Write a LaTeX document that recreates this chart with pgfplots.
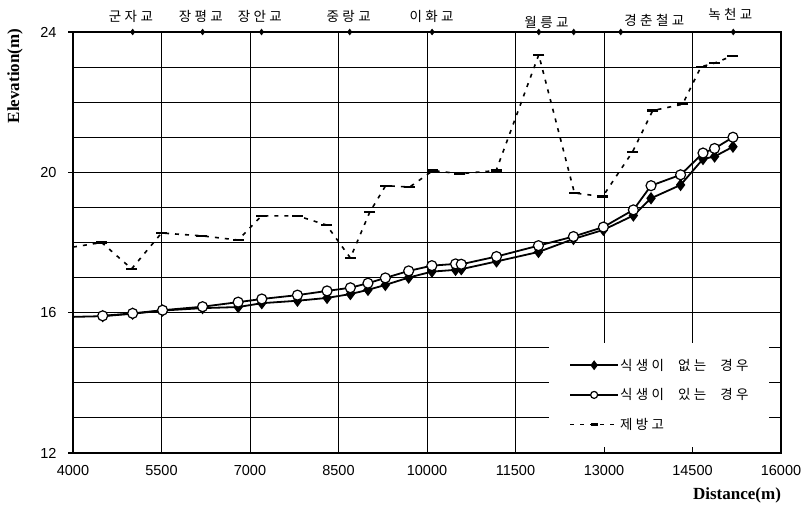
\documentclass[border=0pt]{standalone}
\usepackage{fontspec}
\setmainfont{Liberation Sans}
\newfontfamily\kr[LetterSpace=25]{Noto Sans CJK KR}
\newfontfamily\serifb{Liberation Serif}
\usepackage{pgfplots}
\pgfplotsset{compat=1.18}
\begin{document}
\begin{tikzpicture}[x=1pt,y=1pt]
\begin{axis}[
  at={(0,0)}, anchor=south west,
  scale only axis, width=708pt, height=421pt,
  xmin=4000, xmax=16000, ymin=12, ymax=24,
  xtick={4000,5500,7000,8500,10000,11500,13000,14500,16000},
  scaled x ticks=false,
  ytick={12,16,20,24},
  minor ytick={13,14,15,17,18,19,21,22,23},
  grid=both,
  major grid style={black, line width=1pt},
  minor grid style={black, line width=1pt},
  axis line style={black, line width=2pt},
  tick pos=left,
  ytick style={black, line width=1.2pt},
  xtick style={draw=none},
  minor tick length=0pt,
  major tick length=5pt,
  tick align=outside,
  clip=false,
  /pgf/number format/assume math mode=true,
  /pgf/number format/set thousands separator={},
  ticklabel style={font=\fontsize{14.5}{16}\selectfont},
  yticklabel style={xshift=-8pt},
  xticklabel style={yshift=-4pt},
  legend style={at={(rel axis cs:0.984,0.014)}, anchor=south east,
    draw=none, fill=white, font=\kr\fontsize{13.5}{15}\selectfont,
    row sep=13pt, inner xsep=20pt, inner ysep=14pt,
    nodes={inner xsep=1pt}},
  legend cell align=left,
  legend image code/.code={\draw[mark repeat=2,mark phase=2,mark size=3.5pt] plot coordinates {(0pt,0pt)(24pt,0pt)(48pt,0pt)};},
]
% top bridge markers
\addplot[forget plot, only marks, mark=diamond*, mark size=3pt, black] coordinates {
(5011,24)(6196,24)(7195,24)(8690,24)(10086,24)(11894,24)(12487,24)(13283,24)(15191,24)};
% lead-in segments
\addplot[forget plot, black, line width=1.8pt, no marks] coordinates {(4000,15.88)(4503,15.90)};
\addplot[forget plot, black, line width=1.6pt, dash pattern=on 4pt off 6pt, no marks] coordinates {(4000,17.87)(4486,18.00)};
% no vegetation
\addplot[black, line width=1.8pt, mark=diamond*, mark size=4.8pt, mark options={solid, fill=black}] coordinates {
(4503,15.90)(5011,15.97)(5518,16.06)(6196,16.13)(6799,16.16)(7200,16.27)(7804,16.34)(8306,16.42)(8701,16.53)(8999,16.65)(9294,16.79)(9689,17.00)(10083,17.17)(10484,17.22)(10581,17.24)(11178,17.46)(11889,17.73)(12482,18.10)(12990,18.36)(13498,18.77)(13797,19.26)(14298,19.64)(14678,20.38)(14874,20.45)(15186,20.73)};
\addlegendentry{식생이\hspace{14pt}없는\hspace{14pt}경우}
% with vegetation
\addplot[black, line width=1.8pt, mark=*, mark size=5pt, mark options={solid, fill=white, line width=1.2pt}] coordinates {
(4503,15.91)(5011,15.98)(5518,16.07)(6196,16.17)(6799,16.30)(7200,16.39)(7804,16.50)(8306,16.62)(8701,16.71)(8999,16.84)(9294,16.99)(9689,17.19)(10083,17.34)(10484,17.39)(10581,17.38)(11178,17.60)(11889,17.91)(12482,18.17)(12990,18.44)(13498,18.93)(13797,19.62)(14298,19.93)(14678,20.55)(14874,20.68)(15186,21.00)};
\addlegendentry{식생이\hspace{14pt}있는\hspace{14pt}경우}
% levee
\addplot[black, line width=1.6pt, dash pattern=on 4pt off 6pt, mark=-, mark size=5.5pt, mark options={solid, line width=2.2pt}] coordinates {
(4486,18.00)(4994,17.25)(5501,18.27)(6179,18.19)(6799,18.07)(7195,18.76)(7804,18.76)(8295,18.50)(8701,17.56)(9028,18.86)(9299,19.62)(9705,19.58)(10100,20.05)(10552,19.96)(11172,20.05)(11894,23.35)(12499,19.41)(12978,19.31)(13486,20.59)(13825,21.76)(14332,21.94)(14644,23.01)(14869,23.11)(15179,23.32)};
\addlegendentry{제방고}
% bridge names
\begin{scope}[every node/.style={font=\kr\fontsize{13.5}{15}\selectfont, inner sep=0pt}]
\node at (axis cs:4982,24) [yshift=16pt] {군자교};
\node at (axis cs:6167,24) [yshift=16pt] {장평교};
\node at (axis cs:7166,24) [yshift=16pt] {장안교};
\node at (axis cs:8673,24) [yshift=16pt] {중랑교};
\node at (axis cs:10078,24) [yshift=16pt] {이화교};
\node at (axis cs:12025,24) [yshift=10pt] {월릉교};
\node at (axis cs:13853,24) [yshift=12pt] {경춘철교};
\node at (axis cs:15140,24) [yshift=18pt] {녹천교};
\end{scope}
\end{axis}
\node[rotate=90, font=\serifb\bfseries\fontsize{17}{19}\selectfont] at (-58pt,377pt) {Elevation(m)};
\node[font=\serifb\bfseries\fontsize{17}{19}\selectfont] at (664pt,-42pt) {Distance(m)};
\pgfresetboundingbox
\path (-73pt,-59pt) rectangle (732pt,453pt);
\end{tikzpicture}
\end{document}
